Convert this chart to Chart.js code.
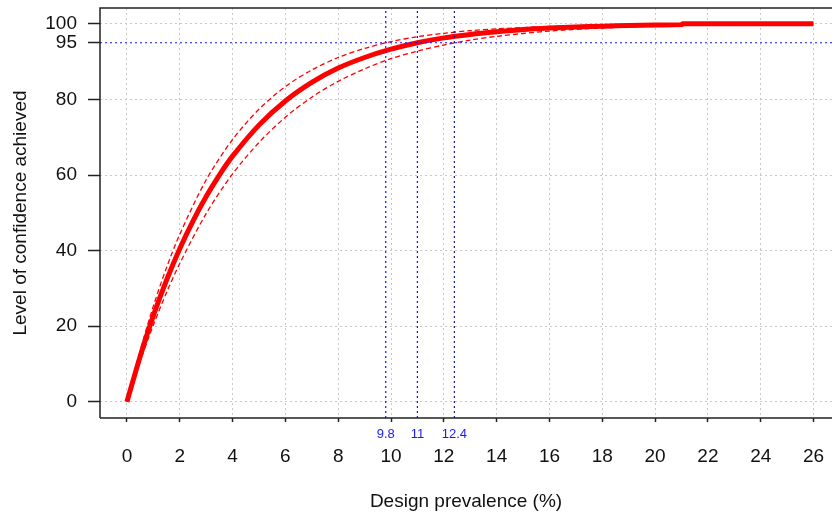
<!DOCTYPE html>
<html>
<head>
<meta charset="utf-8">
<script src="https://cdn.jsdelivr.net/npm/chart.js@4"></script>
<style>
  html, body { margin: 0; padding: 0; background: #fff; }
  #wrap { width: 832px; height: 515px; }
</style>
</head>
<body>
<div id="wrap"><canvas id="chart" width="832" height="515"></canvas></div>
<script>
// values
var prevalence = [0, 0.5, 1, 1.5, 2, 2.5, 3, 3.5, 4, 5, 6, 7, 8, 9, 10, 11, 12, 13, 14, 15, 16, 17, 18, 19, 20, 21, 21.05, 22, 23, 24, 25, 26];
var confidence = [0, 12, 22.8, 32.2, 40.5, 47.8, 54.3, 60, 65, 73.2, 79.6, 84.5, 88.3, 91.1, 93.3, 95, 96.3, 97.2, 97.9, 98.5, 98.9, 99.2, 99.4, 99.6, 99.7, 99.8, 100, 100, 100, 100, 100, 100];

var bandX = [0, 0.5, 1, 1.5, 2, 3, 4, 5, 6, 7, 8, 9, 10, 11, 12, 13, 14, 16, 18, 20, 21];
var upper = [0, 13.5, 25.3, 35.5, 44.3, 58.7, 69.4, 77.4, 83.4, 87.8, 91.1, 93.5, 95.3, 96.6, 97.5, 98.2, 98.7, 99.3, 99.7, 99.8, 100];
var lower = [0, 10.7, 20.3, 28.9, 36.6, 49.8, 60.3, 68.6, 75.3, 80.6, 84.8, 88.1, 90.8, 92.8, 94.4, 95.7, 96.7, 98.1, 98.9, 99.4, 99.6];

var xTicks = [0, 2, 4, 6, 8, 10, 12, 14, 16, 18, 20, 22, 24, 26];
var yTicks = [0, 20, 40, 60, 80, 95, 100];
var refX = [9.8, 11, 12.4];
var refY = 95;

var xMin = -1.02, xMax = 26.7, yMin = -4.3, yMax = 104.2;

function pts(xs, ys) {
    return xs.map(function (x, i) { return { x: x, y: ys[i] }; });
}

var refSets = refX.map(function (v, i) {
    return {
        data: [{ x: v, y: yMin }, { x: v, y: yMax }],
        borderColor: i == 2 ? '#1a1a8c' : '#1010ff',
        borderWidth: 1.2,
        borderDash: [2, 3],
        pointRadius: 0
    };
});
refSets.push({
    data: [{ x: xMin, y: refY }, { x: xMax, y: refY }],
    borderColor: '#1010ff',
    borderWidth: 1.2,
    borderDash: [2, 3],
    pointRadius: 0
});

// box around the plot + small blue labels under the reference lines
var extras = {
    id: 'extras',
    afterDraw: function (chart) {
        var ctx = chart.ctx, a = chart.chartArea, sx = chart.scales.x;
        ctx.save();
        ctx.strokeStyle = '#222';
        ctx.lineWidth = 1.5;
        ctx.beginPath();
        ctx.moveTo(a.left, a.bottom);
        ctx.lineTo(a.left, a.top);
        ctx.lineTo(a.right + 2, a.top);
        ctx.moveTo(a.left, a.bottom);
        ctx.lineTo(a.right + 2, a.bottom);
        ctx.stroke();
        ctx.fillStyle = '#1a1aff';
        ctx.font = '13px "Liberation Sans", Arial, sans-serif';
        ctx.textAlign = 'center';
        ctx.textBaseline = 'middle';
        refX.forEach(function (v) {
            ctx.fillText(String(v), sx.getPixelForValue(v), a.bottom + 16);
        });
        ctx.restore();
    }
};

var font = { family: '"Liberation Sans", Arial, sans-serif', size: 19 };

var config = {
    type: 'line',
    data: {
        datasets: refSets.concat([
            { data: pts(bandX, upper), borderColor: '#ff0000', borderWidth: 1.3, borderDash: [5, 3], pointRadius: 0, tension: 0.3 },
            { data: pts(bandX, lower), borderColor: '#ff0000', borderWidth: 1.3, borderDash: [5, 3], pointRadius: 0, tension: 0.3 },
            { data: pts(prevalence, confidence), borderColor: '#ff0000', borderWidth: 5, pointRadius: 0, tension: 0.3 }
        ])
    },
    options: {
        responsive: false,
        animation: false,
        layout: { padding: { top: 8, right: 0, left: 0, bottom: 0 } },
        plugins: { legend: { display: false }, tooltip: { enabled: false } },
        scales: {
            x: {
                type: 'linear', min: xMin, max: xMax,
                afterBuildTicks: function (s) { s.ticks = xTicks.map(function (v) { return { value: v }; }); },
                afterFit: function (s) { s.height = 97; s.paddingLeft = 0; s.paddingRight = 0; },
                grid: { color: '#c8c8c8', tickColor: '#222', tickLength: 4, tickWidth: 1.5 },
                border: { display: false, dash: [2, 3] },
                ticks: { color: '#111', font: font, padding: 23, maxRotation: 0 },
                title: { display: true, text: 'Design prevalence (%)', color: '#111', font: font, padding: { top: 0, bottom: 2 } }
            },
            y: {
                type: 'linear', min: yMin, max: yMax,
                afterBuildTicks: function (s) { s.ticks = yTicks.map(function (v) { return { value: v }; }); },
                afterFit: function (s) { s.width = 100; s.paddingTop = 0; s.paddingBottom = 0; },
                grid: {
                    color: function (c) { return c.tick && c.tick.value == 95 ? 'rgba(0,0,0,0)' : '#c8c8c8'; },
                    tickColor: '#222', tickLength: 12, tickWidth: 1.5
                },
                border: { display: false, dash: [2, 3] },
                ticks: { color: '#111', font: font, padding: 11 },
                title: { display: true, text: 'Level of confidence achieved', color: '#111', font: font, padding: { top: 9, bottom: 9 } }
            }
        }
    },
    plugins: [extras]
};

var ctx = document.getElementById('chart').getContext('2d');
new Chart(ctx, config);
</script>
</body>
</html>
